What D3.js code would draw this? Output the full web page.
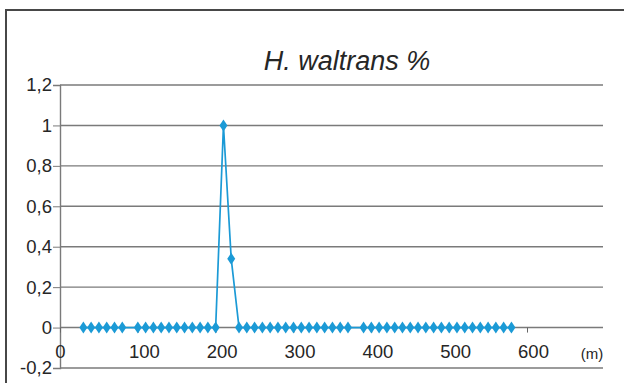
<!DOCTYPE html>
<html>
<head>
<meta charset="utf-8">
<script src="https://cdnjs.cloudflare.com/ajax/libs/d3/7.8.5/d3.min.js"></script>
<style>
  body { margin: 0; background: #fff; }
  svg { display: block; font-family: "Liberation Sans", Arial, sans-serif; }
</style>
</head>
<body>
<div id="chart"></div>
<script>
// distance along the section (m) and H. waltrans %
var distances = [30, 40, 50, 60, 70, 80,
  100, 110, 120, 130, 140, 150, 160, 170, 180, 190, 200, 210, 220, 230, 240, 250,
  260, 270, 280, 290, 300, 310, 320, 330, 340, 350, 360, 370,
  390, 400, 410, 420, 430, 440, 450, 460, 470, 480, 490, 500, 510, 520, 530, 540,
  550, 560, 570, 580];
var percents = [0, 0, 0, 0, 0, 0,
  0, 0, 0, 0, 0, 0, 0, 0, 0, 0, 0, 1, 0.34, 0, 0, 0,
  0, 0, 0, 0, 0, 0, 0, 0, 0, 0, 0, 0,
  0, 0, 0, 0, 0, 0, 0, 0, 0, 0, 0, 0, 0, 0, 0, 0,
  0, 0, 0, 0];
var xTicks = [0, 100, 200, 300, 400, 500, 600];
var yTicks = [-0.2, 0, 0.2, 0.4, 0.6, 0.8, 1, 1.2];
var title = "H. waltrans %";
var unitLabel = "(m)";

var data = distances.map(function(d, i) { return {x: d, y: percents[i]}; });

var width = 624, height = 383;
var gridRight = 603;
var font = "'Liberation Sans', Arial, sans-serif";
var blue = "#1b9ad6", grid = "#7a7a7a", ink = "#262626";

var svg = d3.select("#chart").append("svg")
    .attr("width", width)
    .attr("height", height);

// outer frame (runs off the right and bottom edge)
svg.append("rect")
    .attr("x", 6).attr("y", 10)
    .attr("width", 640).attr("height", 400)
    .attr("fill", "none")
    .attr("stroke", "#474747")
    .attr("stroke-width", 2);

var x = d3.scaleLinear().domain([0, 600]).range([60, 527]);
var y = d3.scaleLinear().domain([-0.2, 1.2]).range([368, 85]);

var fmt = function(d) { return String(+d.toFixed(1)).replace(".", ","); };

// horizontal gridlines
svg.append("g").selectAll("line")
    .data(yTicks)
  .enter().append("line")
    .attr("x1", x(0)).attr("x2", gridRight)
    .attr("y1", function(d) { return y(d); })
    .attr("y2", function(d) { return y(d); })
    .attr("stroke", grid)
    .attr("stroke-width", 1.4);

// y axis
var yAxis = svg.append("g")
    .attr("transform", "translate(" + x(0) + ",0)")
    .call(d3.axisLeft(y).tickValues(yTicks).tickFormat(fmt).tickSize(7).tickPadding(1))
    .attr("font-family", font)
    .attr("font-size", 18.5);
yAxis.select(".domain").attr("stroke", grid).attr("stroke-width", 1.4);
yAxis.selectAll(".tick line").attr("stroke", grid);
yAxis.selectAll("text").attr("fill", ink);

// x axis on the zero line
var xAxis = svg.append("g")
    .attr("transform", "translate(0," + y(0) + ")")
    .call(d3.axisBottom(x).tickValues(xTicks).tickSize(5).tickPadding(12))
    .attr("font-family", font)
    .attr("font-size", 18.5);
xAxis.select(".domain").remove();
xAxis.selectAll(".tick line").attr("stroke", "#666");
xAxis.selectAll("text")
    .attr("fill", ink)
    .attr("dx", function(d) { return d === 0 ? 0 : 6; });

svg.append("text")
    .attr("x", 592).attr("y", y(0) + 31)
    .attr("text-anchor", "middle")
    .attr("fill", ink)
    .style("font-size", "15px")
    .text(unitLabel);

// title
svg.append("text")
    .attr("x", 347).attr("y", 70)
    .attr("text-anchor", "middle")
    .attr("fill", ink)
    .style("font-size", "27px")
    .style("font-style", "italic")
    .text(title);

// series line
var line = d3.line()
    .x(function(d) { return x(d.x); })
    .y(function(d) { return y(d.y); });

svg.append("path")
    .datum(data)
    .attr("fill", "none")
    .attr("stroke", blue)
    .attr("stroke-width", 1.7)
    .attr("d", line);

// diamond markers
svg.append("g").selectAll("path")
    .data(data)
  .enter().append("path")
    .attr("transform", function(d) { return "translate(" + x(d.x) + "," + y(d.y) + ")"; })
    .attr("d", "M0,-6L4,0L0,6L-4,0Z")
    .attr("fill", blue);
</script>
</body>
</html>
